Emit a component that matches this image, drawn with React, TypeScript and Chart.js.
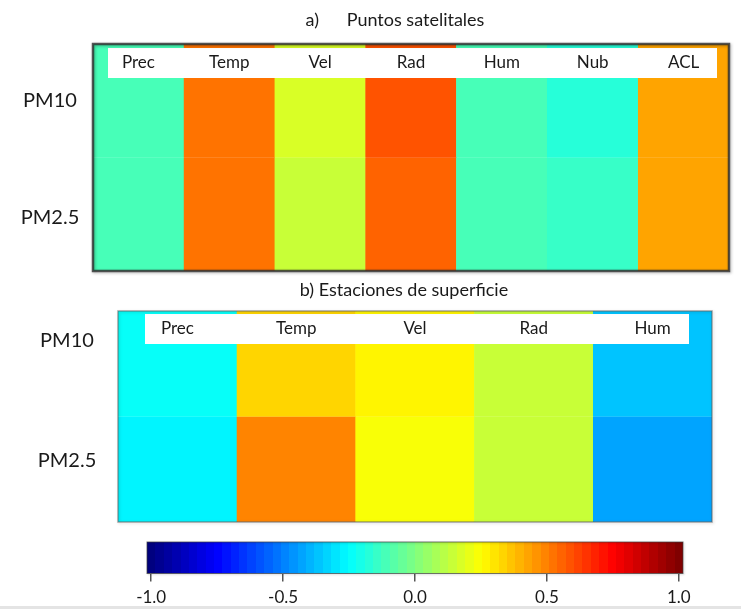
import React, { useEffect, useRef } from 'react';
import { Chart, registerables } from 'chart.js';

Chart.register(...registerables);

// ---------------- data ----------------
const rowLabels = ['PM10', 'PM2.5'];

const satCategories = ['Prec', 'Temp', 'Vel', 'Rad', 'Hum', 'Nub', 'ACL'];
const satPM10 = [-0.12, 0.53, 0.185, 0.59, -0.12, -0.18, 0.44];
const satPM25 = [-0.1, 0.52, 0.15, 0.56, -0.1, -0.15, 0.42];

const stCategories = ['Prec', 'Temp', 'Vel', 'Rad', 'Hum'];
const stPM10 = [-0.25, 0.33, 0.28, 0.15, -0.375];
const stPM25 = [-0.28, 0.5, 0.25, 0.15, -0.44];

const colorbarTicks = [-1.0, -0.5, 0.0, 0.5, 1.0];
const colorLevels = 64;

const titleA = 'a)      Puntos satelitales';
const titleB = 'b) Estaciones de superficie';

// ---------------- colormap ----------------
function jet(v: number): string {
  let t = Math.min(1, Math.max(0, (v + 1) / 2));
  t = Math.round(t * (colorLevels - 1)) / (colorLevels - 1);
  const c = (x: number) => Math.round(255 * Math.min(1, Math.max(0, x)));
  const r = c(1.5 - Math.abs(4 * t - 3));
  const g = c(1.5 - Math.abs(4 * t - 2));
  const b = c(1.5 - Math.abs(4 * t - 1));
  return `rgb(${r},${g},${b})`;
}

const FONT = 'Lato, "Open Sans", sans-serif';
const TEXT = '#1a1a1a';

const decorPlugin = {
  id: 'panelDecor',
  afterDatasetsDraw(chart: any, _args: any, opts: any) {
    const { ctx, chartArea: a, scales } = chart;
    ctx.save();
    // white label strip
    ctx.fillStyle = '#ffffff';
    const bx = a.left + opts.box.l;
    const by = a.top + opts.box.t;
    const bw = a.width - opts.box.l - opts.box.r;
    ctx.fillRect(bx, by, bw, opts.box.h);
    // column labels
    ctx.fillStyle = TEXT;
    ctx.font = `${opts.labelSize}px ${FONT}`;
    ctx.textAlign = 'center';
    ctx.textBaseline = 'middle';
    (chart.data.labels as string[]).forEach((lab, i) => {
      ctx.fillText(lab, scales.x.getPixelForValue(i), by + opts.box.h / 2);
    });
    // row labels
    ctx.font = `${opts.rowSize}px ${FONT}`;
    rowLabels.forEach((lab, i) => {
      ctx.fillText(lab, opts.rowX, scales.y.getPixelForValue(opts.rowTickPos[i]));
    });
    // frame
    ctx.shadowColor = opts.shadow;
    ctx.shadowBlur = 3;
    ctx.shadowOffsetX = 1;
    ctx.shadowOffsetY = 1;
    ctx.strokeStyle = opts.borderColor;
    ctx.lineWidth = opts.borderWidth;
    ctx.strokeRect(a.left, a.top, a.width, a.height);
    ctx.shadowColor = 'transparent';
    // title
    ctx.fillStyle = TEXT;
    ctx.font = `${opts.titleSize}px ${FONT}`;
    ctx.fillText(opts.title, opts.titleX, opts.titleY);
    ctx.restore();
  },
};

type HeatProps = {
  top: number;
  height: number;
  categories: string[];
  pm10: number[];
  pm25: number[];
  title: string;
  titleX: number;
  titleY: number;
  pad: { top: number; right: number; bottom: number; left: number };
  rowX: number;
  rowTickPos: number[];
  box: { l: number; r: number; t: number; h: number };
  borderColor: string;
  borderWidth: number;
  shadow: string;
};

function Heatmap(p: HeatProps) {
  const ref = useRef<HTMLCanvasElement | null>(null);
  useEffect(() => {
    if (!ref.current) return;
    const mk = (vals: number[], lo: number, label: string) => ({
      label,
      data: vals.map(() => [lo, lo + 1]),
      backgroundColor: vals.map(jet),
      borderColor: vals.map(jet),
      borderWidth: 0.5,
      borderSkipped: false,
      grouped: false,
      barPercentage: 1,
      categoryPercentage: 1,
    });
    const chart = new Chart(ref.current, {
      type: 'bar',
      data: {
        labels: p.categories,
        datasets: [mk(p.pm10, 1, rowLabels[0]), mk(p.pm25, 0, rowLabels[1])] as any,
      },
      options: {
        animation: false,
        responsive: false,
        layout: { padding: p.pad },
        plugins: {
          legend: { display: false },
          tooltip: { enabled: false },
          panelDecor: {
            box: p.box,
            labelSize: 17,
            titleSize: 18,
            rowSize: 20,
            rowX: p.rowX,
            rowTickPos: p.rowTickPos,
            title: p.title,
            titleX: p.titleX,
            titleY: p.titleY,
            borderColor: p.borderColor,
            borderWidth: p.borderWidth,
            shadow: p.shadow,
          },
        } as any,
        scales: {
          x: { type: 'category', display: false, offset: true },
          y: { type: 'linear', min: 0, max: 2, display: false },
        },
      },
      plugins: [decorPlugin],
    } as any);
    return () => chart.destroy();
  }, []);
  return (
    <canvas
      ref={ref}
      width={741}
      height={p.height}
      style={{ position: 'absolute', left: 0, top: p.top, width: 741, height: p.height }}
    />
  );
}

const cbExt = 1 + 1 / (colorLevels - 1);

function colorbarGradient(chart: any) {
  const area = chart.chartArea;
  const xs = chart.scales && chart.scales.x;
  if (!area || !xs) return '#888';
  const x0 = xs.getPixelForValue(-cbExt);
  const x1 = xs.getPixelForValue(cbExt);
  const g = chart.ctx.createLinearGradient(x0, 0, x1, 0);
  for (let k = 0; k < colorLevels; k++) {
    const col = jet(-1 + (2 * k) / (colorLevels - 1));
    g.addColorStop(k / colorLevels, col);
    g.addColorStop((k + 1) / colorLevels, col);
  }
  return g;
}

const cbFramePlugin = {
  id: 'cbFrame',
  afterDatasetsDraw(chart: any) {
    const { ctx, chartArea: a } = chart;
    ctx.save();
    ctx.shadowColor = 'rgba(0,0,0,0.25)';
    ctx.shadowBlur = 2;
    ctx.shadowOffsetX = 1;
    ctx.shadowOffsetY = 1;
    ctx.strokeStyle = 'rgba(60,60,60,0.7)';
    ctx.lineWidth = 1;
    ctx.strokeRect(a.left, a.top, a.width, a.height);
    ctx.restore();
  },
};

function Colorbar({ top, height }: { top: number; height: number }) {
  const ref = useRef<HTMLCanvasElement | null>(null);
  useEffect(() => {
    if (!ref.current) return;
    const chart = new Chart(ref.current, {
      type: 'bar',
      data: {
        labels: ['r'],
        datasets: [
          {
            data: [[-cbExt, cbExt]],
            backgroundColor: (c: any) => colorbarGradient(c.chart),
            borderWidth: 0,
            borderSkipped: false,
            barPercentage: 1,
            categoryPercentage: 1,
          },
        ] as any,
      },
      options: {
        indexAxis: 'y',
        animation: false,
        responsive: false,
        layout: { padding: { left: 147, right: 58, top: 12, bottom: 4 } },
        plugins: { legend: { display: false }, tooltip: { enabled: false } },
        scales: {
          x: {
            type: 'linear',
            min: -cbExt,
            max: cbExt,
            afterBuildTicks: (s: any) => {
              s.ticks = colorbarTicks.map((v) => ({ value: v }));
            },
            ticks: {
              autoSkip: false,
              maxRotation: 0,
              callback: (v: any) => Number(v).toFixed(1),
              font: { family: FONT, size: 17 },
              color: TEXT,
              padding: 6,
            },
            grid: { drawOnChartArea: false, drawTicks: true, tickLength: 8, color: '#555', lineWidth: 1.5 },
            border: { display: false },
          },
          y: { display: false },
        },
      },
      plugins: [cbFramePlugin],
    } as any);
    return () => chart.destroy();
  }, []);
  return (
    <canvas
      ref={ref}
      width={741}
      height={height}
      style={{ position: 'absolute', left: 0, top, width: 741, height }}
    />
  );
}

export default function App() {
  return (
    <div style={{ position: 'absolute', left: 0, top: 0, width: 741, height: 609, background: '#fff', overflow: 'hidden' }}>
      <Heatmap
        top={0}
        height={280}
        categories={satCategories}
        pm10={satPM10}
        pm25={satPM25}
        title={titleA}
        titleX={395}
        titleY={20}
        pad={{ top: 44, right: 12, bottom: 9, left: 93 }}
        rowX={50}
        rowTickPos={[1.5, 0.47]}
        box={{ l: 15, r: 12, t: 4, h: 30 }}
        borderColor="rgba(45,45,45,0.8)"
        borderWidth={2.5}
        shadow="rgba(0,0,0,0.35)"
      />
      <Heatmap
        top={280}
        height={250}
        categories={stCategories}
        pm10={stPM10}
        pm25={stPM25}
        title={titleB}
        titleX={404}
        titleY={10}
        pad={{ top: 31, right: 29, bottom: 8, left: 118 }}
        rowX={67}
        rowTickPos={[1.716, 0.578]}
        box={{ l: 27, r: 23, t: 3, h: 30 }}
        borderColor="rgba(90,90,90,0.55)"
        borderWidth={1.5}
        shadow="rgba(0,0,0,0.25)"
      />
      <Colorbar top={530} height={79} />
      <div style={{ position: 'absolute', left: 0, top: 606, width: 741, height: 3, background: '#e4e4e4' }} />
    </div>
  );
}
